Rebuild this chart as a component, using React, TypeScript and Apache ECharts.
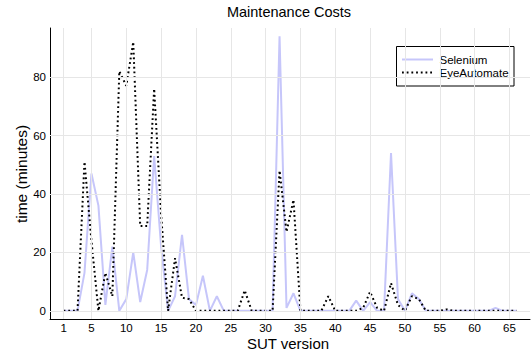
import React, { useEffect, useRef } from "react";
import * as echarts from "echarts";

const versions: number[] = Array.from({ length: 66 }, (_, i) => i + 1);

const selenium: number[] = [
  0, 0, 0, 13, 47, 36, 2, 22, 0, 4,
  20, 3, 14, 53, 22, 0, 5, 26, 4, 2,
  12, 0, 5, 0, 0, 0, 0, 0, 0, 0,
  0, 94, 1, 6, 0, 0, 0, 0, 0, 0,
  0, 0, 3.5, 0, 3, 0, 0, 54, 4, 0,
  6, 4, 0, 0, 0, 0, 0, 0, 0, 0,
  0, 0, 1, 0, 0, 0,
];

const eyeAutomate: number[] = [
  0, 0, 0, 51, 24, 0, 13, 5, 82, 77,
  92, 29, 29, 76, 33, 0, 18, 4.5, 4, 0,
  0, 0, 0, 0, 0, 0, 7, 0, 0, 0,
  0, 48, 27, 38, 0, 0, 0, 0, 5, 0,
  0, 0, 0, 1, 6.5, 1, 0, 9.5, 2, 0,
  5, 4, 0, 0, 0, 0.5, 0, 0, 0, 0,
  0, 0, 0, 0, 0, 0,
];

const seriesNames: string[] = ["Selenium", "EyeAutomate"];
const xTicks: number[] = [1, 5, 10, 15, 20, 25, 30, 35, 40, 45, 50, 55, 60, 65];
const yTicks: number[] = [0, 20, 40, 60, 80];

const FONT = "Liberation Sans, Arial, Helvetica, sans-serif";
const SEL_COLOR = "#c6c6fa";
const DOT: number[] = [1.8, 2.9];

export default function App() {
  const ref = useRef<HTMLDivElement>(null);
  useEffect(() => {
    document.body.style.margin = "0";
    const chart = echarts.init(ref.current!, null, { renderer: "svg" });
    const gridColor = "#e6e6e6";
    chart.setOption({
      animation: false,
      backgroundColor: "#ffffff",
      textStyle: { fontFamily: FONT },
      grid: { left: 50, top: 28, width: 480, height: 291, containLabel: false },
      xAxis: {
        type: "value",
        min: -0.95,
        max: 67.95,
        axisLine: { show: true, onZero: false, lineStyle: { color: "#000", width: 1 } },
        axisTick: { show: true, inside: true, length: 4, customValues: xTicks, lineStyle: { color: "#000" } },
        axisLabel: { customValues: xTicks, fontSize: 11.5, color: "#000", margin: 3, fontFamily: FONT },
        splitLine: { show: false },
      },
      yAxis: {
        type: "value",
        min: -2.8,
        max: 96.8,
        axisLine: { show: true, onZero: false, lineStyle: { color: "#000", width: 1 } },
        axisTick: { show: true, inside: true, length: 4, customValues: yTicks, lineStyle: { color: "#000" } },
        axisLabel: { customValues: yTicks, fontSize: 11.5, color: "#000", margin: 4, fontFamily: FONT },
        splitLine: { show: false },
      },
      graphic: [
        {
          type: "text",
          x: 289,
          y: 12,
          style: {
            text: "Maintenance Costs",
            fontSize: 14.5,
            fontFamily: FONT,
            fill: "#000",
            textAlign: "center",
            textVerticalAlign: "middle",
          },
        },
        {
          type: "text",
          x: 288,
          y: 343,
          style: {
            text: "SUT version",
            fontSize: 15,
            fontFamily: FONT,
            fill: "#000",
            textAlign: "center",
            textVerticalAlign: "middle",
          },
        },
        {
          type: "text",
          x: 21,
          y: 174,
          rotation: Math.PI / 2,
          style: {
            text: "time (minutes)",
            fontSize: 15.5,
            fontFamily: FONT,
            fill: "#000",
            textAlign: "center",
            textVerticalAlign: "middle",
          },
        },
        {
          type: "group",
          z: 100,
          children: [
            {
              type: "rect",
              shape: { x: 396.5, y: 46.5, width: 117.5, height: 39.5 },
              style: { fill: "#ffffff", stroke: "#000000", lineWidth: 1 },
            },
            {
              type: "line",
              shape: { x1: 402, y1: 59.5, x2: 433, y2: 59.5 },
              style: { stroke: SEL_COLOR, lineWidth: 2 },
            },
            {
              type: "line",
              shape: { x1: 402, y1: 72.5, x2: 433, y2: 72.5 },
              style: { stroke: "#000000", lineWidth: 2, lineDash: DOT },
            },
            {
              type: "text",
              x: 439.5,
              y: 59.5,
              style: {
                text: seriesNames[0],
                fontSize: 11.5,
                fontFamily: FONT,
                fill: "#000",
                textAlign: "left",
                textVerticalAlign: "middle",
              },
            },
            {
              type: "text",
              x: 439.5,
              y: 72.5,
              style: {
                text: seriesNames[1],
                fontSize: 11.5,
                fontFamily: FONT,
                fill: "#000",
                textAlign: "left",
                textVerticalAlign: "middle",
              },
            },
          ],
        },
      ],
      series: [
        {
          name: "grid",
          type: "line",
          data: [],
          z: 0,
          silent: true,
          markLine: {
            silent: true,
            symbol: ["none", "none"],
            label: { show: false },
            lineStyle: { color: gridColor, width: 1, type: "solid" },
            data: [
              ...xTicks.map((v) => ({ xAxis: v })),
              ...yTicks.map((v) => ({ yAxis: v })),
            ],
          },
        },
        {
          name: seriesNames[0],
          type: "line",
          z: 2,
          symbol: "none",
          showSymbol: false,
          data: versions.map((v, i) => [v, selenium[i]]),
          lineStyle: { color: SEL_COLOR, width: 2 },
          itemStyle: { color: SEL_COLOR },
        },
        {
          name: seriesNames[1],
          type: "line",
          z: 3,
          symbol: "none",
          showSymbol: false,
          data: versions.map((v, i) => [v, eyeAutomate[i]]),
          lineStyle: { color: "#000000", width: 2, type: DOT },
          itemStyle: { color: "#000000" },
        },
      ],
    });
    return () => chart.dispose();
  }, []);
  return (
    <div
      ref={ref}
      style={{ position: "fixed", left: 0, top: 0, width: 532, height: 354 }}
    />
  );
}
